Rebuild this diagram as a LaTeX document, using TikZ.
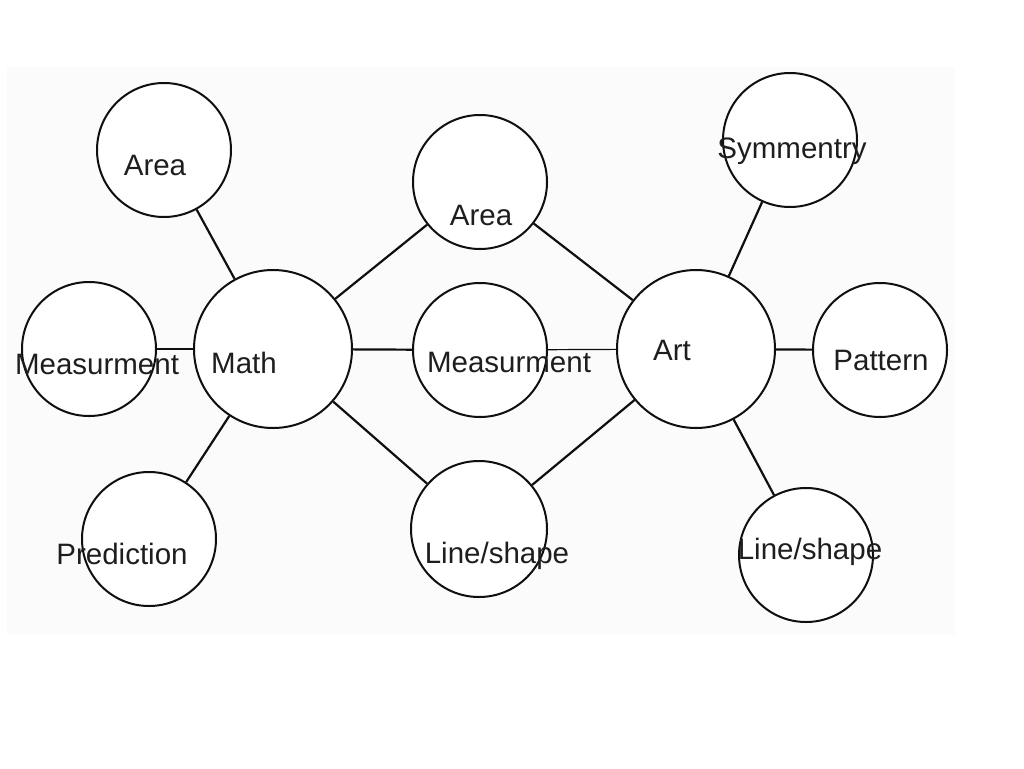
\documentclass[tikz,border=0pt]{standalone}
\usepackage{fontspec}
\setmainfont{Liberation Sans}
\definecolor{bgpanel}{RGB}{251,251,251}
\definecolor{inkc}{RGB}{15,15,15}
\definecolor{textc}{RGB}{30,30,30}
\begin{document}
\begin{tikzpicture}[x=1pt,y=-1pt,
  bubble/.style={circle,draw=inkc,line width=2pt,fill=white,inner sep=0pt,minimum size=#1},
  bubble/.default=134pt,
  lbl/.style={text=textc,font=\fontsize{29.5}{32}\selectfont,inner sep=0pt,anchor=center},
  link/.style={draw=inkc,line width=2.2pt},
  thinlink/.style={draw=inkc,line width=1.2pt}]
\useasboundingbox (0,0) rectangle (1024,768);
\fill[bgpanel] (7,67) rectangle (955,635);
% circles
\node[bubble] (areaL) at (164,150) {};
\node[bubble] (measL) at (89,349) {};
\node[bubble=158pt] (math) at (273,349) {};
\node[bubble] (pred) at (149,539) {};
\node[bubble] (areaM) at (480,182) {};
\node[bubble] (measM) at (480,350) {};
\node[bubble=136pt] (lineM) at (479,529) {};
\node[bubble=158pt] (art) at (696,349) {};
\node[bubble] (sym) at (790,140) {};
\node[bubble] (patt) at (880,350) {};
\node[bubble] (lineR) at (806,555) {};
% connectors
\draw[link] (math) -- (areaL);
\draw[link] (math) -- (measL);
\draw[link] (math) -- (pred);
\draw[link] (math) -- (areaM);
\draw[link] (math) -- (measM);
\draw[link] (math) -- (lineM);
\draw[link] (art) -- (areaM);
\draw[thinlink] (art) -- (measM);
\draw[link] (art) -- (lineM);
\draw[link] (art) -- (sym);
\draw[link] (art) -- (patt);
\draw[link] (art) -- (lineR);
% labels
\node[lbl] (tAreaL) at (155,165) {Area};
\node[lbl] (tMeasL) at (97,364) {Measurment};
\node[lbl] (tMath) at (244,363) {Math};
\node[lbl] (tPred) at (122,554) {Prediction};
\node[lbl] (tAreaM) at (481,215) {Area};
\node[lbl] (tMeasM) at (509,362) {Measurment};
\node[lbl] (tLineM) at (497,556) {Line/shape};
\node[lbl] (tArt) at (672,350) {Art};
\node[lbl] (tSym) at (792,151) {Symmentry};
\node[lbl] (tPatt) at (881,360) {Pattern};
\node[lbl] (tLineR) at (810,552) {Line/shape};
\end{tikzpicture}
\end{document}
